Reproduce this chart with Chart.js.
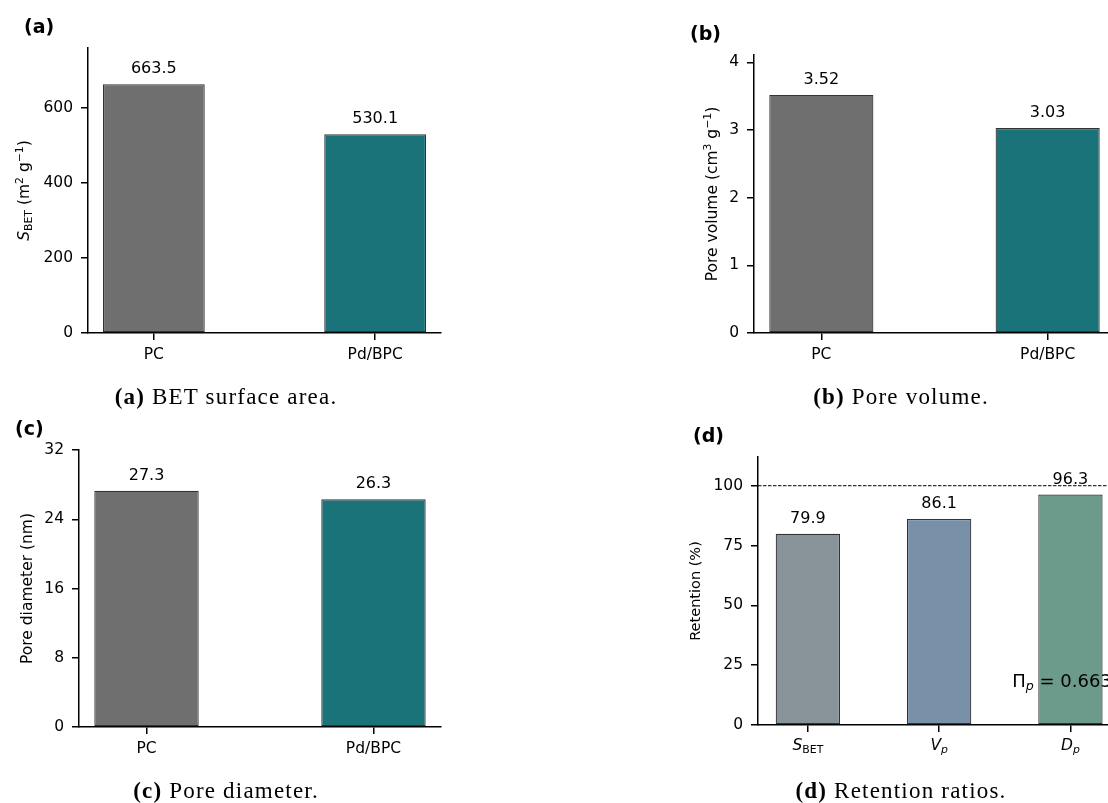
<!DOCTYPE html>
<html>
<head>
<meta charset="utf-8">
<script src="https://cdn.jsdelivr.net/npm/chart.js@4.4.0/dist/chart.umd.min.js"></script>
<style>
  html, body { margin: 0; padding: 0; background: #fff; overflow: hidden; width: 1108px; height: 803px; }
  canvas { position: absolute; left: 0; top: 0; }
  .tag { position: absolute; font: bold 19px "DejaVu Sans"; line-height: 19px; color: #000; }
  .cap { position: absolute; width: 400px; margin-left: -200px; text-align: center;
         font: 23px "Liberation Serif"; letter-spacing: 1.2px; line-height: 22px; color: #000; }
</style>
</head>
<body>
<canvas id="ca" width="1130" height="803"></canvas>
<canvas id="cb" width="1130" height="803"></canvas>
<canvas id="cc" width="1130" height="803"></canvas>
<canvas id="cd" width="1130" height="803"></canvas>

<div class="tag" style="left:24px;top:17px">(a)</div>
<div class="tag" style="left:690px;top:24px">(b)</div>
<div class="tag" style="left:15px;top:419px">(c)</div>
<div class="tag" style="left:693px;top:426px">(d)</div>

<div class="cap" style="left:226px;top:386px"><b>(a)</b> BET surface area.</div>
<div class="cap" style="left:901px;top:386px"><b>(b)</b> Pore volume.</div>
<div class="cap" style="left:226px;top:780px"><b>(c)</b> Pore diameter.</div>
<div class="cap" style="left:901px;top:780px"><b>(d)</b> Retention ratios.</div>

<script>
// data
var samples = ['PC', 'Pd/BPC'];
var surfaceArea = [663.5, 530.1];   // m2/g
var poreVolume = [3.52, 3.03];      // cm3/g
var poreDiameter = [27.3, 26.3];    // nm
var retentionKeys = [['S', 'BET'], ['V', 'p'], ['D', 'p']];
var retention = [79.9, 86.1, 96.3]; // %
var piP = 0.663;

var ticksA = [0, 200, 400, 600];
var ticksB = [0, 1, 2, 3, 4];
var ticksC = [0, 8, 16, 24, 32];
var ticksD = [0, 25, 50, 75, 100];

var W = 1130, H = 803, YW = 75, XH = 40;
var FONT = 'DejaVu Sans';

// draw a piece of "mathtext": parts = [{t, it, sub, sup}]
function richWidth(ctx, parts, size) {
  var w = 0;
  parts.forEach(function (p) {
    var s = (p.sub || p.sup) ? size * 0.7 : size;
    ctx.font = (p.it ? 'italic ' : '') + s + 'px "' + FONT + '"';
    w += ctx.measureText(p.t).width;
  });
  return w;
}
function drawRich(ctx, parts, x, y, size, align) {
  var w = richWidth(ctx, parts, size);
  var cx = align === 'right' ? x - w : (align === 'left' ? x : x - w / 2);
  ctx.textAlign = 'left';
  ctx.textBaseline = 'middle';
  parts.forEach(function (p) {
    var s = (p.sub || p.sup) ? size * 0.7 : size;
    var dy = p.sub ? size * 0.25 : (p.sup ? -size * 0.32 : 0);
    ctx.font = (p.it ? 'italic ' : '') + s + 'px "' + FONT + '"';
    ctx.fillText(p.t, cx, y + dy);
    cx += ctx.measureText(p.t).width;
  });
}

var extras = {
  id: 'extras',
  beforeDatasetsDraw: function (chart) {
    var p = chart.options.plugins.extras, ctx = chart.ctx, a = chart.chartArea;
    if (p.refLine != null) {
      var y = chart.scales.y.getPixelForValue(p.refLine);
      ctx.save();
      ctx.strokeStyle = '#000';
      ctx.lineWidth = 1;
      ctx.setLineDash([3.5, 1.5]);
      ctx.beginPath();
      ctx.moveTo(a.left, y);
      ctx.lineTo(a.right, y);
      ctx.stroke();
      ctx.restore();
    }
  },
  afterDatasetsDraw: function (chart) {
    var p = chart.options.plugins.extras, ctx = chart.ctx, a = chart.chartArea;
    var meta = chart.getDatasetMeta(0);
    ctx.save();
    ctx.fillStyle = '#000';
    // value labels
    ctx.font = '16px "' + FONT + '"';
    ctx.textAlign = 'center';
    ctx.textBaseline = 'alphabetic';
    meta.data.forEach(function (bar, i) {
      ctx.fillText(chart.data.datasets[0].data[i].y.toFixed(p.decimals), bar.x, bar.y - 11);
    });
    // y title
    ctx.save();
    ctx.translate(a.left - p.titleGap, (a.top + a.bottom) / 2);
    ctx.rotate(-Math.PI / 2);
    drawRich(ctx, p.title, 0, 0, p.titleSize, 'center');
    ctx.restore();
    // rich x tick labels
    if (p.richX) {
      p.richX.forEach(function (k, i) {
        var x = chart.scales.x.getPixelForValue(i);
        drawRich(ctx, [{ t: k[0], it: 1 }, { t: k[1], sub: 1, it: k[1].length === 1 }], x, a.bottom + 21, 15.5, 'center');
      });
    }
    if (p.note) {
      drawRich(ctx, p.note, a.left + 0.98 * (a.right - a.left), a.bottom - 0.16 * (a.bottom - a.top), 18, 'right');
    }
    ctx.restore();
  }
};

function axisStyle() {
  return {
    grid: { display: true, drawOnChartArea: false, drawTicks: true, tickLength: 7, color: '#000', lineWidth: 1.5, offset: false },
    border: { display: true, color: '#000', width: 1.5 },
    ticks: { font: { family: FONT, size: 15.5 }, color: '#000', padding: 8 }
  };
}

function makeChart(id, c) {
  var xs = axisStyle(), ys = axisStyle();
  xs.type = 'linear';
  xs.min = c.xMin; xs.max = c.xMax; xs.offset = false;
  xs.afterFit = function (s) { s.height = XH; };
  xs.afterBuildTicks = function (s) { s.ticks = c.values.map(function (v, i) { return { value: i }; }); };
  xs.ticks.padding = 6;
  xs.ticks.callback = function (v) { return c.labels ? c.labels[v] : ''; };
  ys.min = 0; ys.max = c.yMax;
  ys.afterFit = function (s) { s.width = YW; };
  ys.afterBuildTicks = function (s) { s.ticks = c.yTicks.map(function (v) { return { value: v }; }); };
  ys.ticks.callback = function (v) { return String(v); };

  return new Chart(document.getElementById(id), {
    type: 'bar',
    data: {
      datasets: [{
        data: c.values.map(function (v, i) { return { x: i, y: v }; }),
        backgroundColor: c.colors,
        borderColor: '#333',
        borderWidth: 1.2,
        borderSkipped: false,
        barPercentage: c.barPct,
        categoryPercentage: 1
      }]
    },
    options: {
      responsive: false,
      animation: false,
      devicePixelRatio: 1,
      layout: { padding: { left: c.box[0] - YW, top: c.box[1], right: W - c.box[2], bottom: H - c.box[3] - XH } },
      plugins: {
        legend: { display: false },
        tooltip: { enabled: false },
        extras: c.extras
      },
      scales: { x: xs, y: ys }
    },
    plugins: [extras]
  });
}

var grey = '#6f6f6f', teal = '#1b737a';

makeChart('ca', {
  labels: samples, values: surfaceArea, colors: [grey, teal],
  box: [88, 48, 441, 333], xMin: -0.2975, xMax: 1.2975, yMax: 760, yTicks: ticksA, barPct: 0.46,
  extras: { decimals: 1, titleGap: 63, titleSize: 15.5,
    title: [{ t: 'S', it: 1 }, { t: 'BET', sub: 1 }, { t: ' (m' }, { t: '2', sup: 1 }, { t: ' g' }, { t: '\u22121', sup: 1 }, { t: ')' }] }
});

makeChart('cb', {
  labels: samples, values: poreVolume, colors: [grey, teal],
  box: [754, 55, 1115, 333], xMin: -0.2975, xMax: 1.2975, yMax: 4.11, yTicks: ticksB, barPct: 0.46,
  extras: { decimals: 2, titleGap: 41, titleSize: 15.5,
    title: [{ t: 'Pore volume (cm' }, { t: '3', sup: 1 }, { t: ' g' }, { t: '\u22121', sup: 1 }, { t: ')' }] }
});

makeChart('cc', {
  labels: samples, values: poreDiameter, colors: [grey, teal],
  box: [79, 450, 441, 727], xMin: -0.2975, xMax: 1.2975, yMax: 32, yTicks: ticksC, barPct: 0.46,
  extras: { decimals: 1, titleGap: 51, titleSize: 15.5, title: [{ t: 'Pore diameter (nm)' }] }
});

makeChart('cd', {
  labels: null, values: retention, colors: ['#88939a', '#7890a8', '#6d9b8b'],
  box: [758, 457, 1119, 725], xMin: -0.38, xMax: 2.37, yMax: 112, yTicks: ticksD, barPct: 0.49,
  extras: { decimals: 1, titleGap: 62, titleSize: 14.5, title: [{ t: 'Retention (%)' }],
    refLine: 100, richX: retentionKeys,
    note: [{ t: '\u03a0' }, { t: 'p', it: 1, sub: 1 }, { t: ' = ' + piP.toFixed(3) }] }
});
</script>
</body>
</html>
